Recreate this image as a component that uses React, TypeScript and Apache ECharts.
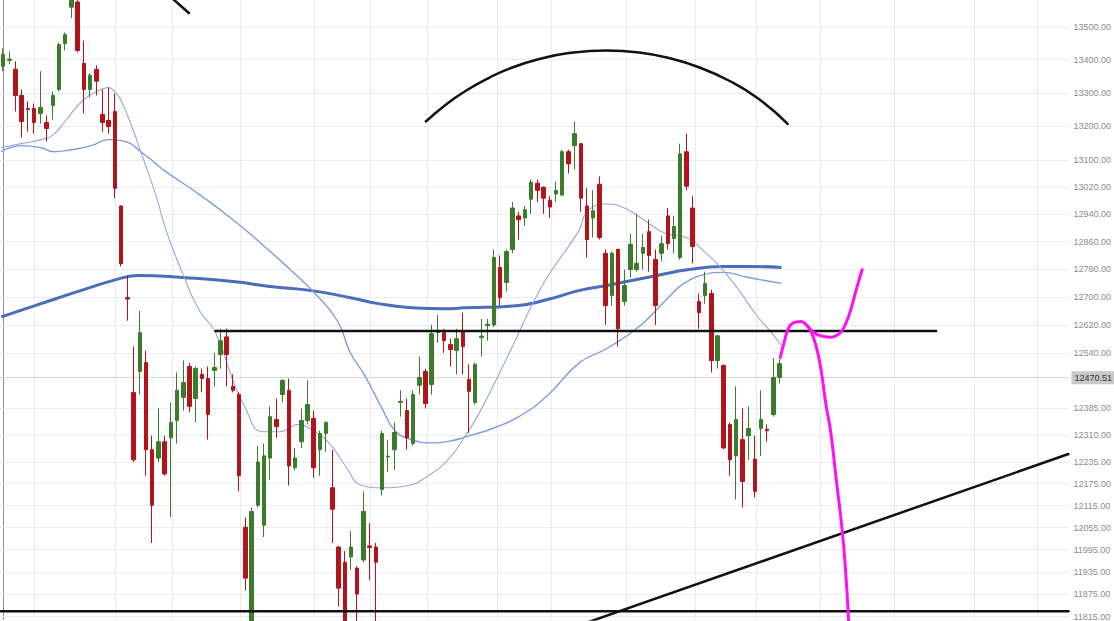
import React, { useEffect, useRef } from "react";
import * as echarts from "echarts";

const CATEGORY_COUNT = 172;
const Y_MIN = 11807;
const Y_MAX = 13582;
const LAST_PRICE = 12470.51;

const yTicks = [13500, 13400, 13300, 13200, 13100, 13020, 12940, 12860, 12780, 12700, 12620, 12540, 12385, 12310, 12235, 12175, 12115, 12055, 11995, 11935, 11875, 11815];
const xGridIdx = [5.0, 18.0, 27.2, 38.2, 50.1, 59.1, 68.2, 79.6, 88.3, 100.3, 111.5, 121.3, 131.6, 143.4, 156.3, 166.5];

// [open, close, low, high]
const candles: number[][] = [
  [13380, 13416, 13365, 13434], [13398, 13402, 13386, 13425], [13371, 13292, 13244, 13395], [13292, 13214, 13166, 13310],
  [13253, 13250, 13184, 13274], [13253, 13211, 13178, 13268], [13238, 13256, 13208, 13365], [13211, 13193, 13154, 13232],
  [13262, 13292, 13220, 13304], [13310, 13446, 13304, 13452], [13449, 13476, 13428, 13482], [13560, 13600, 13527, 13620],
  [13576, 13428, 13422, 13590], [13389, 13310, 13238, 13458], [13310, 13353, 13286, 13359], [13371, 13335, 13292, 13383],
  [13235, 13211, 13184, 13310], [13217, 13199, 13178, 13316], [13244, 13016, 12987, 13298], [12964, 12796, 12788, 12966],
  [12698, 12694, 12632, 12762], [12429, 12241, 12235, 12558], [12488, 12598, 12423, 12660], [12513, 12269, 12197, 12547],
  [12269, 12116, 12013, 12308], [12246, 12291, 12235, 12384], [12291, 12202, 12197, 12308], [12302, 12345, 12083, 12401],
  [12350, 12435, 12286, 12485], [12415, 12457, 12378, 12519], [12502, 12390, 12373, 12513], [12412, 12496, 12345, 12502],
  [12480, 12468, 12429, 12496], [12468, 12367, 12297, 12502], [12491, 12499, 12446, 12541], [12536, 12575, 12496, 12609],
  [12586, 12536, 12446, 12609], [12446, 12435, 12429, 12480], [12423, 12197, 12154, 12429], [12056, 11918, 11885, 12083],
  [11790, 12099, 11760, 12110], [12116, 12235, 12110, 12280], [12061, 12252, 12029, 12286], [12246, 12361, 12186, 12390],
  [12353, 12333, 12302, 12412], [12423, 12463, 12401, 12466], [12435, 12224, 12170, 12468], [12219, 12246, 12213, 12274],
  [12291, 12350, 12274, 12384], [12350, 12395, 12339, 12463], [12356, 12219, 12192, 12378], [12269, 12314, 12197, 12322],
  [12314, 12345, 12263, 12348], [12164, 12105, 12013, 12269], [12002, 11891, 11842, 12005], [11961, 11790, 11770, 11991],
  [11975, 12002, 11940, 12045], [11945, 11875, 11800, 11950], [11967, 12099, 11961, 12154], [12005, 12001, 11912, 12067],
  [12002, 11961, 11800, 12013], [12159, 12314, 12143, 12322], [12249, 12251, 12208, 12297], [12269, 12317, 12213, 12345],
  [12401, 12404, 12361, 12435], [12378, 12302, 12269, 12412], [12286, 12423, 12280, 12435], [12449, 12471, 12423, 12530],
  [12488, 12398, 12384, 12496], [12451, 12595, 12423, 12620], [12598, 12603, 12569, 12649], [12598, 12575, 12541, 12609],
  [12564, 12550, 12502, 12581], [12547, 12581, 12480, 12609], [12603, 12558, 12480, 12655], [12466, 12432, 12316, 12508],
  [12401, 12508, 12395, 12513], [12584, 12588, 12530, 12637], [12618, 12622, 12575, 12637], [12620, 12814, 12614, 12837],
  [12785, 12698, 12675, 12820], [12742, 12831, 12716, 12837], [12837, 12958, 12826, 12976], [12935, 12924, 12866, 12947],
  [12929, 12953, 12906, 12964], [12984, 13034, 12941, 13042], [13031, 13010, 12976, 13042], [13019, 12987, 12941, 13022],
  [12981, 12961, 12929, 12993], [12999, 13010, 12976, 13036], [12996, 13124, 12993, 13130], [13124, 13088, 13060, 13130],
  [13142, 13178, 13071, 13214], [13148, 12987, 12947, 13150], [12964, 12866, 12814, 13016], [12929, 12950, 12872, 13010],
  [13028, 12872, 12866, 13051], [12826, 12675, 12620, 12837], [12704, 12826, 12675, 12831], [12837, 12609, 12558, 12840],
  [12687, 12733, 12675, 12779], [12779, 12852, 12756, 12883], [12779, 12797, 12773, 12941], [12826, 12843, 12779, 12883],
  [12889, 12820, 12773, 12924], [12808, 12675, 12620, 12837], [12826, 12854, 12802, 12877], [12935, 12854, 12837, 12958],
  [12869, 12904, 12826, 12935], [12814, 13118, 12808, 13148], [13124, 13022, 13010, 13178], [12958, 12846, 12797, 12993],
  [12687, 12655, 12609, 12710], [12704, 12739, 12681, 12773], [12710, 12519, 12485, 12721], [12519, 12589, 12496, 12592],
  [12505, 12274, 12270, 12508], [12339, 12241, 12197, 12345], [12252, 12353, 12132, 12446], [12297, 12181, 12110, 12384],
  [12308, 12328, 12241, 12390], [12243, 12154, 12137, 12308], [12328, 12353, 12252, 12435], [12326, 12322, 12291, 12339],
  [12367, 12471, 12361, 12525], [12471, 12510, 12454, 12522],
];

// moving averages: [candle index, value]
const maFast: number[][] = [
  [-0.3, 13136], [2.9, 13148], [6.1, 13160], [8.1, 13175], [10.2, 13220], [13.0, 13280], [15.8, 13310], [16.9, 13316],
  [18.2, 13298], [19.0, 13277], [20.9, 13190], [22.5, 13106], [24.6, 12996], [26.2, 12895], [28.9, 12768], [31.5, 12664],
  [34.2, 12598], [37.0, 12463], [38.7, 12395], [41.9, 12319], [44.6, 12319], [47.4, 12339], [49.9, 12322], [52.7, 12283],
  [55.1, 12224], [57.8, 12170], [61.0, 12164], [65.2, 12170], [68.4, 12197], [71.6, 12241], [74.3, 12305], [76.7, 12373],
  [81.5, 12541], [86.8, 12733], [92.8, 12895], [94.0, 12947], [97.2, 12970], [100.0, 12958], [102.7, 12929], [106.4, 12886],
  [110.4, 12869], [112.5, 12837], [115.2, 12791], [118.4, 12721], [121.1, 12652], [123.7, 12598], [125.3, 12561],
];
const maMid: number[][] = [
  [-0.3, 13124], [2.9, 13142], [6.1, 13136], [8.1, 13124], [11.0, 13130], [14.2, 13142], [16.9, 13160], [19.0, 13157],
  [23.0, 13112], [26.2, 13065], [31.5, 12999], [37.4, 12918], [41.9, 12849], [46.2, 12779], [49.9, 12716], [53.8, 12632],
  [55.9, 12541], [58.3, 12474], [61.0, 12384], [63.1, 12322], [65.8, 12297], [69.0, 12288], [72.2, 12294], [75.1, 12308],
  [78.8, 12328], [83.1, 12362], [87.5, 12418], [92.8, 12513], [97.2, 12553], [102.7, 12620], [106.9, 12695], [109.6, 12739],
  [113.0, 12765], [115.7, 12771], [120.0, 12756], [125.3, 12739],
];
const maSlow: number[][] = [
  [-0.3, 12643], [6.1, 12681], [12.6, 12719], [18.2, 12750], [21.9, 12762], [28.9, 12756], [37.4, 12744], [43.0, 12730],
  [49.4, 12719], [55.9, 12698], [60.4, 12681], [65.8, 12669], [71.1, 12666], [74.3, 12669], [82.6, 12675], [87.5, 12692],
  [92.8, 12719], [97.2, 12733], [105.3, 12762], [110.4, 12779], [115.7, 12788], [120.0, 12788], [125.3, 12785],
];

// hand-drawn annotations: [candle index, value]
const domeArc: number[][] = [
  [68.05, 13214], [71.1, 13262], [74.3, 13304], [78.3, 13346], [81.5, 13373], [86.3, 13402], [91.1, 13420], [97.1, 13428],
  [102.4, 13422], [107.2, 13405], [112.0, 13377], [116.8, 13337], [121.6, 13282], [126.3, 13207],
];
const topLeftArc: number[][] = [[26.7, 13596], [28.3, 13569], [29.9, 13542]];
const resistance: number[][] = [[34.2, 12603], [150.2, 12603]];
const support: number[][] = [[-0.6, 11829], [171.5, 11829]];
const trendLine: number[][] = [[91.1, 11782], [171.5, 12257]];
const pathUp: number[][] = [
  [125.1, 12527], [125.8, 12575], [126.4, 12609], [127.2, 12626], [128.4, 12630], [129.3, 12620], [130.0, 12606],
  [130.8, 12595], [131.9, 12588], [133.2, 12585], [134.1, 12589], [134.9, 12600], [135.7, 12626], [136.5, 12666],
  [137.3, 12719], [138.3, 12779],
];
const pathDown: number[][] = [
  [129.3, 12620], [130.0, 12603], [130.8, 12565], [131.6, 12500], [132.5, 12390], [133.2, 12322],
  [134.1, 12189], [135.1, 12043], [135.7, 11918], [136.1, 11807], [136.2, 11769],
];

const categories = Array.from({ length: CATEGORY_COUNT }, (_, i) => String(i));
const FONT = "'Liberation Sans', Arial, sans-serif";

function drawn(name: string, data: number[][], color: string, width: number, smooth: boolean | number) {
  return {
    name, type: "line", xAxisIndex: 1, yAxisIndex: 0, data, smooth, symbol: "none", showSymbol: false,
    silent: true, z: 6, lineStyle: { color, width, cap: "round", join: "round" },
  };
}

export default function App() {
  const ref = useRef<HTMLDivElement>(null);
  useEffect(() => {
    if (!ref.current) return;
    const chart = echarts.init(ref.current, undefined, { renderer: "svg" });
    chart.setOption({
      animation: false,
      backgroundColor: "#ffffff",
      grid: { left: -1.4, right: 43, top: 0, bottom: 0, containLabel: false },
      xAxis: [
        { type: "category", data: categories, show: false, boundaryGap: true },
        { type: "value", min: -0.5, max: CATEGORY_COUNT - 0.5, show: false },
      ],
      yAxis: {
        type: "log", logBase: 10, min: Y_MIN, max: Y_MAX, position: "right",
        axisLine: { show: true, lineStyle: { color: "#8f8f8f", width: 1 } },
        axisTick: { show: true, customValues: yTicks, length: 4, lineStyle: { color: "#aaaaaa" } },
        axisLabel: {
          show: true, customValues: yTicks, color: "#8c8c8c", fontSize: 9, fontFamily: FONT, margin: 5,
          formatter: (v: number) => Number(v).toFixed(2),
        },
        splitLine: { show: false },
      },
      series: [
        {
          name: "grid", type: "line", xAxisIndex: 1, data: [[0, 12500]], symbol: "none", showSymbol: false,
          lineStyle: { opacity: 0 }, silent: true, z: 1,
          markLine: {
            silent: true, symbol: ["none", "none"], z: 1, animation: false,
            label: { show: false },
            lineStyle: { color: "#e8ebef", width: 1, type: "solid" },
            data: [
              ...yTicks.map((v) => ({ yAxis: v })),
              ...xGridIdx.map((v) => ({ xAxis: v })),
            ],
          },
        },
        {
          name: "price", type: "line", xAxisIndex: 1, data: [[0, LAST_PRICE]], symbol: "none", showSymbol: false,
          lineStyle: { opacity: 0 }, silent: true, z: 2,
          markLine: {
            silent: true, symbol: ["none", "none"], z: 2, animation: false,
            lineStyle: { color: "#d6d6d6", width: 1, type: "solid" },
            label: {
              show: true, position: "end", distance: 3, formatter: LAST_PRICE.toFixed(2), color: "#333333",
              backgroundColor: "#c8c8c8", padding: [2, 3, 2, 3], fontSize: 9, fontFamily: FONT,
            },
            data: [{ yAxis: LAST_PRICE }],
          },
        },
        {
          name: "MA slow", type: "line", xAxisIndex: 1, data: maSlow, smooth: true, symbol: "none", showSymbol: false,
          silent: true, z: 3, lineStyle: { color: "#4a6cbd", width: 3 },
        },
        {
          name: "MA mid", type: "line", xAxisIndex: 1, data: maMid, smooth: true, symbol: "none", showSymbol: false,
          silent: true, z: 3, lineStyle: { color: "#7e9de0", width: 1.4 },
        },
        {
          name: "MA fast", type: "line", xAxisIndex: 1, data: maFast, smooth: true, symbol: "none", showSymbol: false,
          silent: true, z: 3, lineStyle: { color: "#98a6de", width: 1.1 },
        },
        {
          name: "price candles", type: "candlestick", xAxisIndex: 0, yAxisIndex: 0, data: candles, barWidth: 4, z: 4,
          itemStyle: { color: "#3c7a2c", color0: "#b3131b", borderColor: "#3c7a2c", borderColor0: "#b3131b", borderWidth: 1 },
        },
        drawn("dome", domeArc, "#111111", 2.5, true),
        drawn("arc", topLeftArc, "#111111", 2.5, true),
        drawn("resistance", resistance, "#111111", 2.5, false),
        drawn("support", support, "#111111", 2.5, false),
        drawn("trend", trendLine, "#111111", 2.5, false),
        drawn("path up", pathUp, "#ff10f0", 3, true),
        drawn("path down", pathDown, "#ff10f0", 3, true),
      ],
    });
    return () => chart.dispose();
  }, []);
  return <div ref={ref} style={{ position: "fixed", left: 0, top: 0, width: 1114, height: 621 }} />;
}
